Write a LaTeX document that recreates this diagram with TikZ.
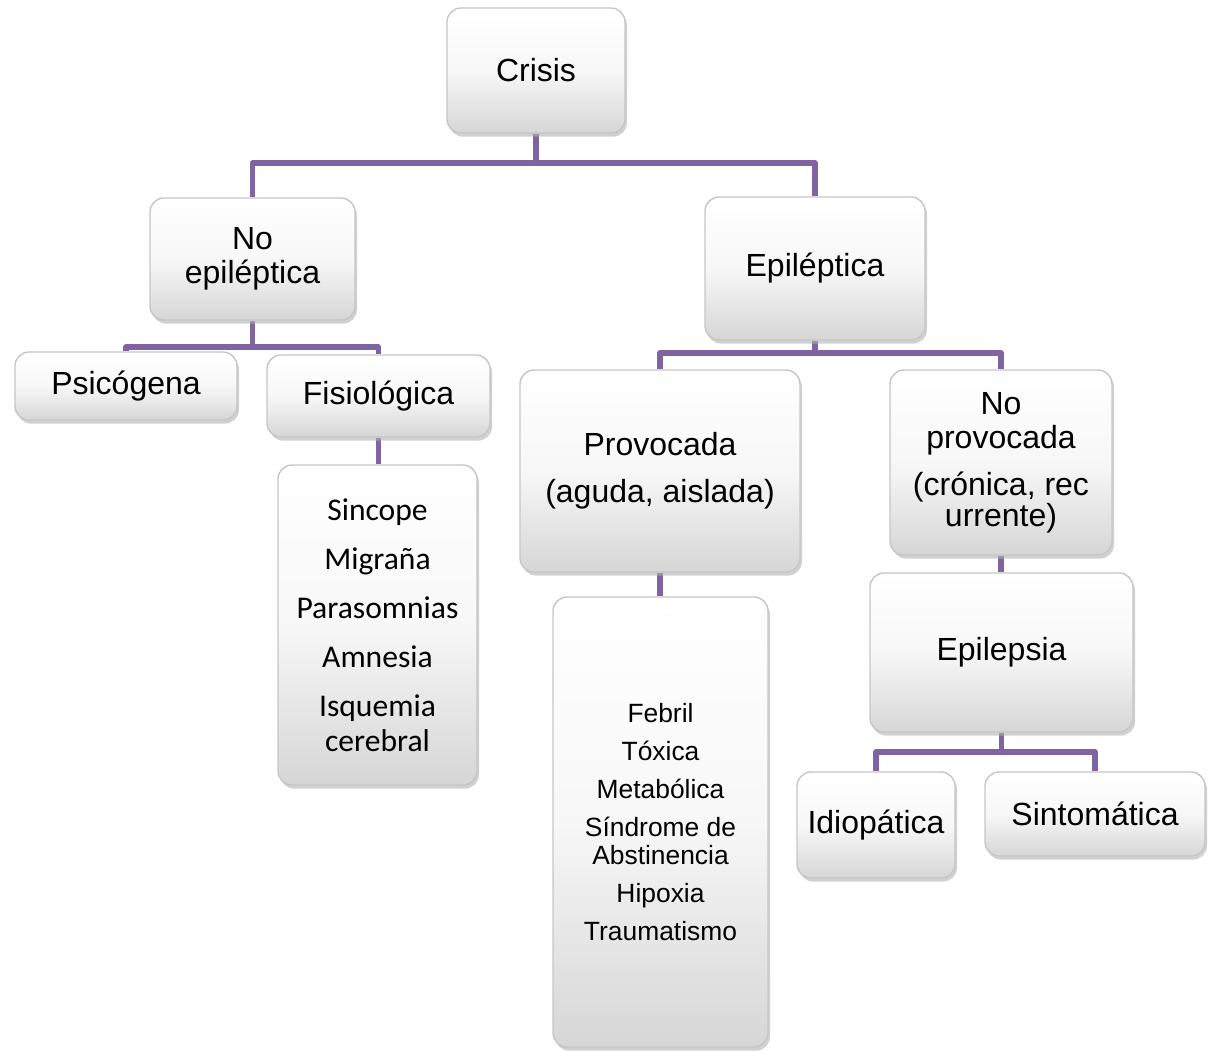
\documentclass[tikz,border=0pt]{standalone}
\usepackage{fontspec}
\setmainfont{Liberation Sans}
\newfontfamily\calfont{Carlito}
\usetikzlibrary{shadows,backgrounds}
\tikzset{
  box/.style={rectangle, rounded corners=7pt, draw=gray!45, line width=0.7pt,
    top color=white, bottom color=gray!32, middle color=gray!6,
    drop shadow={shadow xshift=1pt, shadow yshift=-1.8pt, fill=gray!60, opacity=0.6},
    align=center, inner sep=2pt, font=\fontsize{16}{17}\selectfont},
  conn/.style={draw={rgb,255:red,128;green,100;blue,162}, line width=2.6pt, line join=round}
}
\begin{document}
\begin{tikzpicture}[x=0.5pt,y=-0.5pt]
\useasboundingbox (0,0) rectangle (1214,1051);
\node[box, minimum width=89pt, minimum height=62.5pt] (crisis) at (536,70.5) {Crisis};
\node[box, minimum width=102.5pt, minimum height=61pt] (noep) at (252.5,259) {No\\epiléptica};
\node[box, minimum width=110pt, minimum height=71.5pt] (ep) at (815,268.5) {Epiléptica};
\node[box, minimum width=111pt, minimum height=34pt] (psi) at (126,386) {Psicógena};
\node[box, minimum width=111.5pt, minimum height=41pt] (fis) at (378.5,396) {Fisiológica};
\node[box, minimum width=99.5pt, minimum height=160pt, font=\calfont\fontsize{15.8}{17.5}\selectfont] (sinc) at (377.5,625)
  {Sincope\\[7pt]Migraña\\[7pt]Parasomnias\\[7pt]Amnesia\\[7pt]Isquemia\\cerebral};
\node[box, minimum width=140pt, minimum height=101pt] (prov) at (660,471) {Provocada\\[6.5pt](aguda, aislada)};
\node[box, minimum width=111pt, minimum height=92.5pt] (noprov) at (1001,462.5) {No\\provocada\\[6.5pt](crónica, rec\\[-1.5pt]urrente)};
\node[box, minimum width=107.5pt, minimum height=225pt, font=\fontsize{13.2}{14}\selectfont] (feb) at (660.5,822)
  {Febril\\[5pt]Tóxica\\[5pt]Metabólica\\[5pt]Síndrome de\\Abstinencia\\[5pt]Hipoxia\\[5pt]Traumatismo};
\node[box, minimum width=131.5pt, minimum height=79.5pt] (epil) at (1001.5,652.5) {Epilepsia};
\node[box, minimum width=79pt, minimum height=53pt] (idio) at (876,825) {Idiopática};
\node[box, minimum width=110pt, minimum height=42pt] (sint) at (1095,814) {Sintomática};
\coordinate (b1) at (0,163);
\coordinate (b2) at (0,347);
\coordinate (b3) at (0,353);
\coordinate (b4) at (0,752);
\begin{scope}[on background layer]
\draw[conn] (crisis.south) -- (crisis.south |- b1) -| (noep.north);
\draw[conn] (crisis.south |- b1) -| (ep.north);
\draw[conn] (noep.south) -- (noep.south |- b2) -| (psi.north);
\draw[conn] (noep.south |- b2) -| (fis.north);
\draw[conn] (fis.south) -- (fis.south |- sinc.north);
\draw[conn] (ep.south) -- (ep.south |- b3) -| (prov.north);
\draw[conn] (ep.south |- b3) -| (noprov.north);
\draw[conn] (prov.south) -- (prov.south |- feb.north);
\draw[conn] (noprov.south) -- (noprov.south |- epil.north);
\draw[conn] (epil.south) -- (epil.south |- b4) -| (idio.north);
\draw[conn] (epil.south |- b4) -| (sint.north);
\end{scope}
\end{tikzpicture}
\end{document}
